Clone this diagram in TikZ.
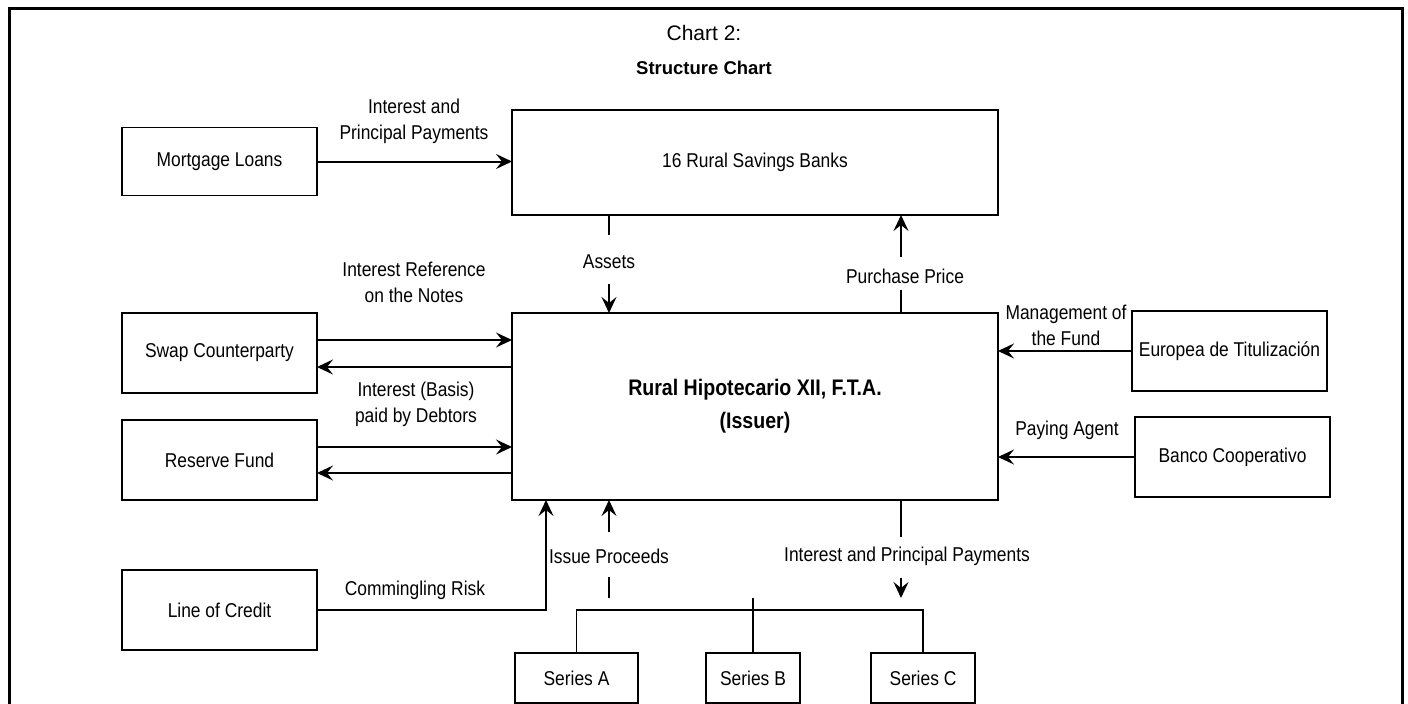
\documentclass[tikz,border=0pt]{standalone}
\usepackage{fontspec}
\setmainfont{Liberation Sans}[FakeStretch=0.87]
\newfontfamily\titlefont{Liberation Sans}
\usetikzlibrary{arrows.meta,calc}
\begin{document}
\begin{tikzpicture}[x=1pt,y=-1pt,
  box/.style={draw, line width=1.3pt, inner sep=0pt, outer sep=0pt, font=\fontsize{20}{26}\selectfont, align=center},
  sidebox/.style={box, minimum width=195pt, minimum height=80pt},
  serbox/.style={box, minimum height=50pt},
  lbl/.style={inner sep=0pt, font=\fontsize{20}{26}\selectfont, align=center},
  ln/.style={line width=2pt},
  thin/.style={line width=1.3pt},
  arr/.style={line width=2pt, -{Stealth[length=16pt,width=15pt,inset=6pt]}},
]
\fill[white] (0,0) rectangle (1408,704);
\useasboundingbox (0,0) rectangle (1408,704);
\draw[line width=3pt] (9,708) -- (9,8) -- (1402,8) -- (1402,708);

% titles
\node[inner sep=0pt, font=\titlefont\fontsize{21}{24}\selectfont] (t1) at (704,33) {Chart 2:};
\node[inner sep=0pt, font=\titlefont\bfseries\fontsize{18.5}{22}\selectfont] (t2) at (704,68) {Structure Chart};

% boxes
\node[box, minimum width=195pt, minimum height=68pt] (mort) at (219.5,161.5) {Mortgage Loans};
\node[box, minimum width=486pt, minimum height=105pt] (banks) at (755,162.5) {16 Rural Savings Banks};
\node[box, minimum width=486pt, minimum height=187pt, font=\bfseries\fontsize{22.5}{33}\selectfont] (issuer) at (755,406.5) {Rural Hipotecario XII, F.T.A.\\(Issuer)};
\node[sidebox] (swap) at (219.5,353) {Swap Counterparty};
\node[sidebox] (reserve) at (219.5,460) {Reserve Fund};
\node[sidebox] (credit) at (219.5,610) {Line of Credit};
\node[sidebox] (europea) at (1229.5,351) {Europea de Titulización};
\node[sidebox] (banco) at (1232.5,457) {Banco Cooperativo};
\node[serbox, minimum width=123pt] (serA) at (576.5,678) {Series A};
\node[serbox, minimum width=94pt] (serB) at (753,678) {Series B};
\node[serbox, minimum width=104pt] (serC) at (923,678) {Series C};

% labels
\node[lbl] (lmort) at (414,121) {Interest and\\Principal Payments};
\node[lbl] (lref) at (414,282.5) {Interest Reference\\on the Notes};
\node[lbl] (lbasis) at (416,404.5) {Interest (Basis)\\paid by Debtors};
\node[lbl] (lmgmt) at (1066,325) {Management of\\the Fund};
\node[lbl] (lpay) at (1067,430) {Paying Agent};
\node[lbl] (lcomm) at (415,590) {Commingling Risk};
\node[lbl] (lassets) at (609,262) {Assets};
\node[lbl] (lprice) at (905,276) {Purchase Price};
\node[lbl] (lissue) at (609,556) {Issue Proceeds};
\node[lbl] (lipp) at (907,556) {Interest and Principal Payments};

% helper coordinates
\coordinate (xA) at (609,0);
\coordinate (xP) at (901,0);
\coordinate (xC) at (546,0);
\coordinate (bus) at (0,610);
\coordinate (a1) at (609,235);
\coordinate (a2) at (609,284);
\coordinate (p1) at (901,290);
\coordinate (p2) at (901,257);
\coordinate (ip1) at (609,532);
\coordinate (ip2) at (609,577);
\coordinate (ip3) at (609,598);
\coordinate (q1) at (901,537);
\coordinate (q2) at (901,578);
\coordinate (q3) at (901,598);
\coordinate (s1) at ($(swap.east)+(0,-13)$);
\coordinate (s2) at ($(swap.east)+(0,14)$);
\coordinate (r1) at ($(reserve.east)+(0,-13)$);
\coordinate (r2) at ($(reserve.east)+(0,13)$);

% connectors
\draw[arr] (mort.east) -- (mort.east -| banks.west);
\draw[ln] (banks.south -| xA) -- (a1);
\draw[arr] (a2) -- (issuer.north -| xA);
\draw[ln] (issuer.north -| xP) -- (p1);
\draw[arr] (p2) -- (banks.south -| xP);
\draw[arr] (s1) -- (s1 -| issuer.west);
\draw[arr] (s2 -| issuer.west) -- (s2);
\draw[arr] (r1) -- (r1 -| issuer.west);
\draw[arr] (r2 -| issuer.west) -- (r2);
\draw[arr] (europea.west) -- (europea.west -| issuer.east);
\draw[arr] (banco.west) -- (banco.west -| issuer.east);
\draw[arr] (credit.east) -| (issuer.south -| xC);
\draw[arr] (ip1) -- (issuer.south -| xA);
\draw[ln] (ip2) -- (ip3);
\draw[ln] (issuer.south -| xP) -- (q1);
\draw[arr] (q2) -- (q3);
\draw[thin] (serA.north) |- (serC.north |- bus) -- (serC.north);
\draw[thin] (serB.north) -- ++(0,-55);
\end{tikzpicture}
\end{document}
